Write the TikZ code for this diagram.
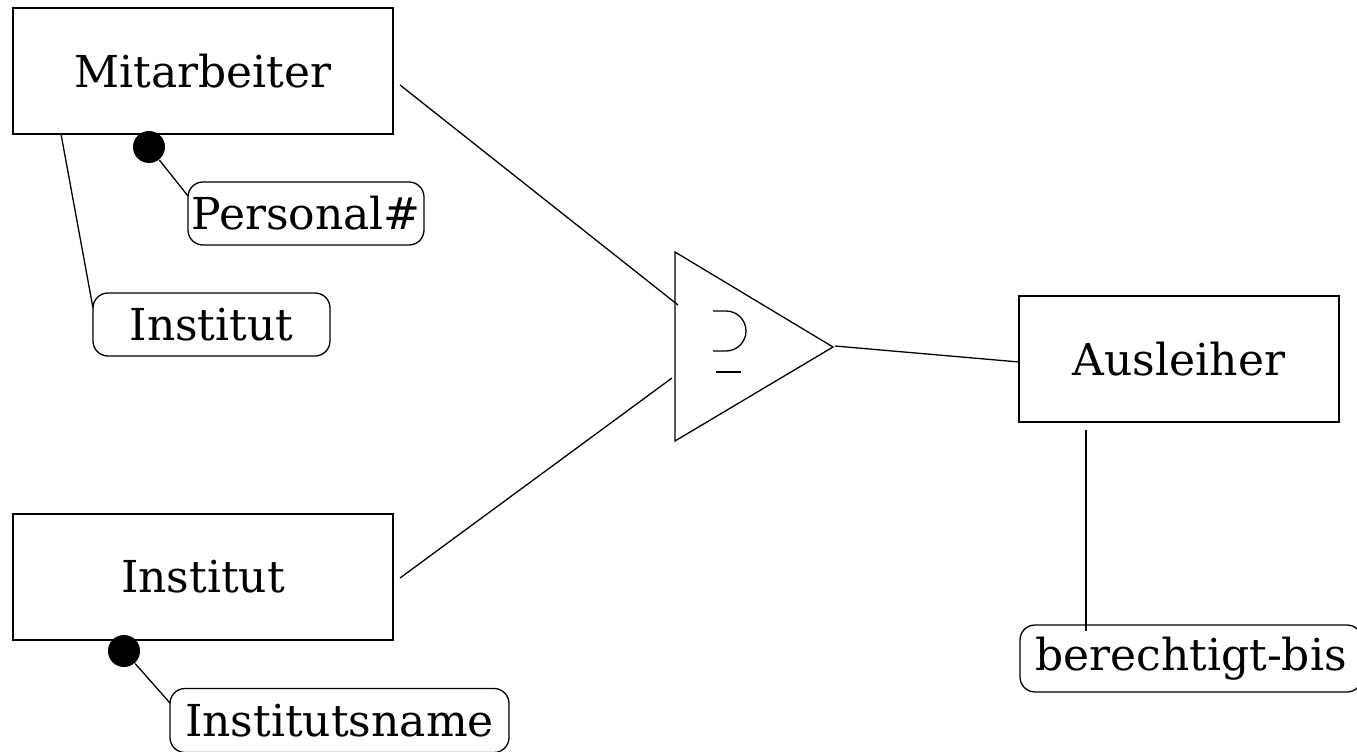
\documentclass[tikz,border=0pt]{standalone}
\usepackage{fontspec}
\setmainfont{DejaVu Serif}
\begin{document}
\begin{tikzpicture}[x=1pt,y=-1pt,line width=1.3pt,
  entity/.style={draw,rectangle,inner sep=0pt,font=\fontsize{44}{52}\selectfont},
  attr/.style={draw,rectangle,rounded corners=15pt,inner sep=0pt,font=\fontsize{44}{52}\selectfont},
  keydot/.style={circle,fill=black,inner sep=0pt,minimum size=32pt}]
\useasboundingbox (0,0) rectangle (1357,752);
% entities
\node[entity,minimum width=380pt,minimum height=126pt] (mit) at (203,71) {Mitarbeiter};
\node[entity,minimum width=380pt,minimum height=126pt] (inst) at (203,577) {Institut};
\node[entity,minimum width=320pt,minimum height=126pt] (aus) at (1179,359) {Ausleiher};
% attributes
\node[attr,minimum width=236pt,minimum height=63pt] (pers) at (306,213.5) {Personal\#};
\node[attr,minimum width=237pt,minimum height=63pt] (iattr) at (211.5,324.5) {Institut};
\node[attr,minimum width=339pt,minimum height=64pt] (iname) at (339.5,720.5) {Institutsname};
\node[attr,minimum width=342pt,minimum height=67pt] (bis) at (1191,658.5) {berechtigt-bis};
% key dots
\node[keydot] (d1) at (149,147) {};
\node[keydot] (d2) at (124,651) {};
% triangle
\coordinate (tt) at (675,252);
\coordinate (tb) at (675,441);
\coordinate (tap) at (833,347);
\draw (tt) -- (tap) -- (tb) -- cycle;
\draw (713,311) -- (726,311) arc[start angle=-90,end angle=90,radius=20] -- (713,351);
\draw (716,372) -- (741,372);
% connector points
\coordinate (m1) at (400,85);
\coordinate (m2) at (678,305);
\coordinate (i1) at (400,578);
\coordinate (i2) at (672,378);
\coordinate (a1) at (835,346);
\coordinate (a2) at (1019,362);
\coordinate (b1) at (1086,430);
\coordinate (b2) at (1086,631);
\coordinate (p1) at (188,196);
\coordinate (ia1) at (61,134);
\coordinate (ia2) at (93,308);
\coordinate (n1) at (170,703);
\draw (m1) -- (m2);
\draw (i1) -- (i2);
\draw (a1) -- (a2);
\draw (b1) -- (b2);
\draw (d1) -- (p1);
\draw (ia1) -- (ia2);
\draw (d2) -- (n1);
\end{tikzpicture}
\end{document}
